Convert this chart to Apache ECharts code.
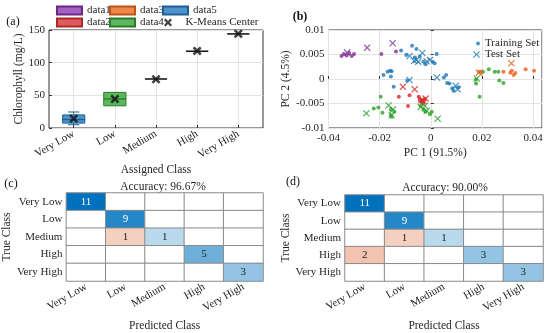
<!DOCTYPE html>
<html><head><meta charset="utf-8">
<script src="https://cdn.jsdelivr.net/npm/echarts@6/dist/echarts.min.js"></script>
<style>html,body{margin:0;padding:0;background:#fff}#c{width:550px;height:333px}</style>
</head><body><div id="c"></div>
<script>
// ---------- data ----------
const classes = ['Very Low', 'Low', 'Medium', 'High', 'Very High'];
const boxNames = ['data5', 'data4', 'data3', 'data2', 'data1'];
// [min, q1, median, q3, max] for each class
const boxVeryLow = [5, 7.5, 13, 20, 24.5];
const boxLow = [34, 34, 44.5, 54.5, 54.5];
const boxMedium = [75, 75, 75, 75, 75];
const boxHigh = [117.5, 117.5, 117.5, 117.5, 117.5];
const boxVeryHigh = [144, 144, 144, 144, 144];
const kmeansCenters = [14.4, 44.3, 74.7, 118, 144.3];

const trainVeryLow = [[-0.0073,0.0068],[-0.0056,0.0061],[-0.0116,0.0058],[-0.0096,0.0049],[-0.0043,0.0046],[0.0007,0.0035],[0.0015,0.0032],[0.0023,0.0051],[-0.0029,0.0035],[-0.0185,0.0008],[-0.0169,0.0015],[-0.0159,0.0017],[-0.0153,0.0016],[-0.0156,0.0005],[-0.0145,-0.0016],[-0.0092,-0.0003],[0.0051,0.0003],[0.0060,0.0008],[0.0064,-0.0008],[0.0073,-0.0009],[0.0084,-0.0019],[0.0089,-0.0024],[0.0108,-0.0017],[-0.0062,0.0044],[-0.0020,0.0030]];
const testVeryLow = [[-0.0083,0.0047],[-0.0065,0.0037],[-0.0056,0.0039],[-0.0049,0.0035],[-0.0033,0.0053],[-0.0016,0.0036],[-0.0003,0.0039],[0.0024,0.0003],[-0.0083,-0.0002],[0.0097,-0.0014],[0.0105,-0.0021]];
const trainLow = [[-0.0196,-0.0036],[-0.0223,-0.0060],[-0.0205,-0.0058],[-0.0189,-0.0069],[-0.0156,-0.0062],[-0.0156,-0.0074],[-0.0153,-0.0077],[-0.0143,-0.0067],[-0.0040,-0.0055],[-0.0029,-0.0063],[-0.0020,-0.0067],[0.0004,-0.0067],[-0.0003,-0.0072],[0.0177,-0.0009],[0.0177,-0.0001],[0.0191,-0.0036],[0.0227,0.0020],[0.0250,0.0015],[0.0264,0.0015],[0.0268,-0.0003],[0.0284,-0.0008],[0.0204,0.0015]];
const testLow = [[-0.0252,-0.0070],[-0.0165,-0.0054],[-0.0148,-0.0062],[-0.0153,-0.0074],[-0.0039,-0.0057],[-0.0023,-0.0055],[-0.0016,-0.0065],[0.0027,-0.0081],[0.0180,0.0001]];
const trainMedium = [[0.0188,0.0015],[0.0197,0.0013],[0.0284,0.0015],[0.0311,0.0013],[0.0324,0.0008],[0.0331,0.0012],[0.0317,0.0017],[0.0371,0.0020],[0.0404,0.0017]];
const testMedium = [[0.0188,0.0013],[0.0315,0.0032]];
const trainHigh = [[-0.0125,-0.0036],[-0.0083,-0.0033],[-0.0089,-0.0055],[-0.0047,-0.0036],[-0.0036,-0.0046],[-0.0043,-0.0043],[-0.0023,-0.0042],[-0.0030,-0.0050]];
const testHigh = [[-0.0109,-0.0016],[-0.0063,-0.0021],[-0.0036,-0.0043],[-0.0020,-0.0040],[-0.0029,-0.0044]];
const trainVeryHigh = [[-0.0349,0.0047],[-0.0340,0.0051],[-0.0329,0.0048],[-0.0319,0.0053],[-0.0309,0.0047],[-0.0300,0.0051],[-0.0193,0.0051],[-0.0136,0.0056]];
const testVeryHigh = [[-0.0327,0.0054],[-0.0249,0.0064],[-0.0149,0.0073]];

// confusion matrices: rows = true class, columns = predicted class
const confC = [[11,0,0,0,0],[0,9,0,0,0],[0,1,1,0,0],[0,0,0,5,0],[0,0,0,0,3]];
const confD = [[11,0,0,0,0],[0,9,0,0,0],[0,1,1,0,0],[2,0,0,3,0],[0,0,0,0,3]];
const accC = 'Accuracy: 96.67%';
const accD = 'Accuracy: 90.00%';

// ---------- styles ----------
const FONT = '"Liberation Serif", "DejaVu Serif", serif';
const TXT = '#262626';
const boxFill = ['#4f93cb', '#5cb85c', '#f0884a', '#e05a5a', '#a45fc2'];
const boxEdge = ['#1f5f94', '#2a7a2a', '#b8541c', '#a82a2a', '#6a2a84'];
const classColor = ['#1f77b4', '#2ca02c', '#e8601c', '#d62728', '#7e2f8e'];
const X_BOLD = 'path://M2,0L5,3L8,0L10,2L7,5L10,8L8,10L5,7L2,10L0,8L3,5L0,2Z';
const X_THIN = 'path://M1.2,0L5,3.8L8.8,0L10,1.2L6.2,5L10,8.8L8.8,10L5,6.2L1.2,10L0,8.8L3.8,5L0,1.2Z';

const boxStats = [boxVeryLow, boxLow, boxMedium, boxHigh, boxVeryHigh];

function makeBoxSeries(i) {
  return {
    type: 'custom', name: boxNames[i], xAxisIndex: 0, yAxisIndex: 0,
    itemStyle: { color: boxFill[i], borderColor: boxEdge[i], borderWidth: 1 },
    data: [[i + 1].concat(boxStats[i])],
    z: 2,
    renderItem: function (params, api) {
      const x = api.value(0);
      const mn = api.value(1), q1 = api.value(2), md = api.value(3), q3 = api.value(4), mx = api.value(5);
      const hw = 0.27, cw = 0.135;
      const L = api.coord([x - hw, 0])[0], R = api.coord([x + hw, 0])[0], C = api.coord([x, 0])[0];
      const cl = api.coord([x - cw, 0])[0], cr = api.coord([x + cw, 0])[0];
      const y = v => api.coord([x, v])[1];
      const children = [];
      if (q3 - q1 < 1e-9) {
        children.push({ type: 'line', shape: { x1: L, y1: y(md), x2: R, y2: y(md) }, style: { stroke: '#1a1a1a', lineWidth: 1.6 } });
      } else {
        const ls = { stroke: boxEdge[i], lineWidth: 1 };
        if (mx > q3) {
          children.push({ type: 'line', shape: { x1: C, y1: y(q3), x2: C, y2: y(mx) }, style: ls });
          children.push({ type: 'line', shape: { x1: cl, y1: y(mx), x2: cr, y2: y(mx) }, style: ls });
        }
        if (mn < q1) {
          children.push({ type: 'line', shape: { x1: C, y1: y(q1), x2: C, y2: y(mn) }, style: ls });
          children.push({ type: 'line', shape: { x1: cl, y1: y(mn), x2: cr, y2: y(mn) }, style: ls });
        }
        children.push({ type: 'rect', shape: { x: L, y: y(q3), width: R - L, height: y(q1) - y(q3) }, style: { fill: boxFill[i], stroke: boxEdge[i], lineWidth: 1 } });
        children.push({ type: 'line', shape: { x1: L, y1: y(md), x2: R, y2: y(md) }, style: { stroke: boxEdge[i], lineWidth: 1.4 } });
      }
      return { type: 'group', children: children };
    }
  };
}

function pts(arr, ci) {
  return arr.map(p => ({ value: p, itemStyle: { color: classColor[ci] } }));
}
const trainSets = [trainVeryLow, trainLow, trainMedium, trainHigh, trainVeryHigh];
const testSets = [testVeryLow, testLow, testMedium, testHigh, testVeryHigh];
let trainData = [], testData = [];
trainSets.forEach((a, i) => { trainData = trainData.concat(pts(a, i)); });
testSets.forEach((a, i) => { testData = testData.concat(pts(a, i)); });

function cellColor(v, max, diag) {
  if (v === 0) return '#ffffff';
  const a = 0.2 + 0.8 * v / max;
  const base = diag ? [0, 114, 189] : [217, 83, 25];
  const c = base.map(b => Math.round(255 * (1 - a) + b * a));
  return 'rgb(' + c.join(',') + ')';
}
function heatData(m) {
  let max = 0; m.forEach(r => r.forEach(v => { if (v > max) max = v; }));
  const out = [];
  m.forEach((row, r) => row.forEach((v, c) => {
    const a = 0.2 + 0.8 * v / max;
    out.push({
      value: [c, r, v],
      itemStyle: { color: cellColor(v, max, r === c) },
      label: { show: v > 0, color: a > 0.75 ? '#ffffff' : '#222222' }
    });
  }));
  return out;
}

const labelStyle = { fontFamily: FONT, fontSize: 11, color: TXT };
const nameStyle = { fontFamily: FONT, fontSize: 11.5, color: TXT };
const gridLine = { show: true, lineStyle: { color: '#e3e3e3', width: 1 } };

function cmAxes(g) {
  return {
    x: {
      type: 'category', gridIndex: g, data: classes,
      axisLabel: Object.assign({ rotate: 30, interval: 0, margin: 5 }, labelStyle),
      axisTick: { show: false }, axisLine: { show: false }, splitLine: { show: false },
      name: 'Predicted Class', nameLocation: 'middle', nameGap: 39, nameTextStyle: nameStyle
    },
    y: {
      type: 'category', gridIndex: g, data: classes, inverse: true,
      axisLabel: Object.assign({ margin: 4, interval: 0 }, labelStyle),
      axisTick: { show: false }, axisLine: { show: false }, splitLine: { show: false },
      name: 'True Class', nameLocation: 'middle', nameGap: 42, nameTextStyle: nameStyle
    }
  };
}
const cmC = cmAxes(2), cmD = cmAxes(3);

function legendItem(name, left, top, w, h, icon) {
  const l = { data: [name], left: left, top: top, itemWidth: w, itemHeight: h, padding: 0, itemGap: 0,
    textStyle: { fontFamily: FONT, fontSize: 11, color: TXT }, selectedMode: false };
  if (icon) l.icon = icon;
  return l;
}

const option = {
  animation: false,
  backgroundColor: '#fff',
  grid: [
    { left: 49, top: 30, width: 214, height: 98, show: true, borderColor: '#333', borderWidth: 1 },
    { left: 328.5, top: 30, width: 213.5, height: 98, show: true, borderColor: '#333', borderWidth: 1 },
    { left: 65, top: 193, width: 198, height: 88 },
    { left: 345, top: 195, width: 198, height: 86 }
  ],
  xAxis: [
    {
      type: 'value', gridIndex: 0, min: 0.4, max: 5.6,
      axisLabel: Object.assign({ customValues: [1, 2, 3, 4, 5], rotate: 30, margin: 5,
        formatter: v => classes[Math.round(v) - 1] || '' }, labelStyle),
      axisTick: { customValues: [1, 2, 3, 4, 5], inside: true, length: 3, lineStyle: { color: '#333' } },
      axisLine: { show: false }, splitLine: gridLine,
      name: 'Assigned Class', nameLocation: 'middle', nameGap: 36, nameTextStyle: nameStyle
    },
    {
      type: 'value', gridIndex: 1, min: -0.04, max: 0.0435, interval: 0.02,
      axisLabel: Object.assign({ showMaxLabel: false, margin: 5 }, labelStyle),
      axisTick: { inside: true, length: 3, lineStyle: { color: '#333' } },
      axisLine: { show: false }, splitLine: gridLine,
      name: 'PC 1 (91.5%)', nameLocation: 'middle', nameGap: 19, nameTextStyle: nameStyle
    },
    cmC.x, cmD.x
  ],
  yAxis: [
    {
      type: 'value', gridIndex: 0, min: 0, max: 150, interval: 50,
      axisLabel: Object.assign({ margin: 4 }, labelStyle),
      axisTick: { inside: true, length: 3, lineStyle: { color: '#333' } },
      axisLine: { show: false }, splitLine: gridLine,
      name: 'Chlorophyll (mg/L)', nameLocation: 'middle', nameGap: 18, nameTextStyle: nameStyle
    },
    {
      type: 'value', gridIndex: 1, min: -0.01, max: 0.01, interval: 0.005,
      axisLabel: Object.assign({ margin: 4 }, labelStyle),
      axisTick: { inside: true, length: 3, lineStyle: { color: '#333' } },
      axisLine: { show: false }, splitLine: gridLine,
      name: 'PC 2 (4.5%)', nameLocation: 'middle', nameGap: 26, nameTextStyle: nameStyle
    },
    cmC.y, cmD.y
  ],
  legend: [
    legendItem('data1', 56, 5, 25, 8, 'rect'),
    legendItem('data3', 109, 5, 25, 8, 'rect'),
    legendItem('data5', 162, 5, 25, 8, 'rect'),
    legendItem('data2', 56, 17, 25, 8, 'rect'),
    legendItem('data4', 109, 17, 25, 8, 'rect'),
    legendItem('K-Means Center', 164, 17, 25, 8),
    legendItem('Training Set', 476, 38, 4, 4),
    legendItem('Test Set', 473, 49, 7, 7)
  ],
  graphic: [
    { type: 'text', x: 13, y: 22, style: { text: '(a)', fontFamily: FONT, fontSize: 12, fill: '#111', textAlign: 'center', textVerticalAlign: 'middle' } },
    { type: 'text', x: 300, y: 17, style: { text: '(b)', fontFamily: FONT, fontSize: 12, fontWeight: 'bold', fill: '#111', textAlign: 'center', textVerticalAlign: 'middle' } },
    { type: 'text', x: 11, y: 184, style: { text: '(c)', fontFamily: FONT, fontSize: 12, fill: '#111', textAlign: 'center', textVerticalAlign: 'middle' } },
    { type: 'text', x: 293, y: 182, style: { text: '(d)', fontFamily: FONT, fontSize: 12, fill: '#111', textAlign: 'center', textVerticalAlign: 'middle' } },
    { type: 'text', x: 163, y: 187, style: { text: accC, fontFamily: FONT, fontSize: 11.5, fill: TXT, textAlign: 'center', textVerticalAlign: 'middle' } },
    { type: 'text', x: 445, y: 188, style: { text: accD, fontFamily: FONT, fontSize: 11.5, fill: TXT, textAlign: 'center', textVerticalAlign: 'middle' } }
  ],
  series: [
    makeBoxSeries(4), makeBoxSeries(3), makeBoxSeries(2), makeBoxSeries(1), makeBoxSeries(0),
    {
      type: 'scatter', name: 'K-Means Center', xAxisIndex: 0, yAxisIndex: 0, z: 5,
      symbol: X_BOLD, symbolSize: 9, itemStyle: { color: '#111' },
      data: kmeansCenters.map((v, i) => [i + 1, v])
    },
    {
      type: 'scatter', name: 'Training Set', xAxisIndex: 1, yAxisIndex: 1,
      symbol: 'circle', symbolSize: 4, itemStyle: { color: '#1f77b4' }, data: trainData
    },
    {
      type: 'scatter', name: 'Test Set', xAxisIndex: 1, yAxisIndex: 1,
      symbol: X_THIN, symbolSize: 7, itemStyle: { color: '#1f77b4' }, data: testData
    },
    {
      type: 'heatmap', xAxisIndex: 2, yAxisIndex: 2, data: heatData(confC),
      itemStyle: { borderColor: '#8a8a8a', borderWidth: 1 },
      label: { show: true, fontFamily: FONT, fontSize: 11, formatter: p => p.value[2] },
      emphasis: { disabled: true }
    },
    {
      type: 'heatmap', xAxisIndex: 3, yAxisIndex: 3, data: heatData(confD),
      itemStyle: { borderColor: '#8a8a8a', borderWidth: 1 },
      label: { show: true, fontFamily: FONT, fontSize: 11, formatter: p => p.value[2] },
      emphasis: { disabled: true }
    }
  ]
};

const chart = echarts.init(document.getElementById('c'), null, { renderer: 'canvas' });
chart.setOption(option);
</script>
</body></html>
